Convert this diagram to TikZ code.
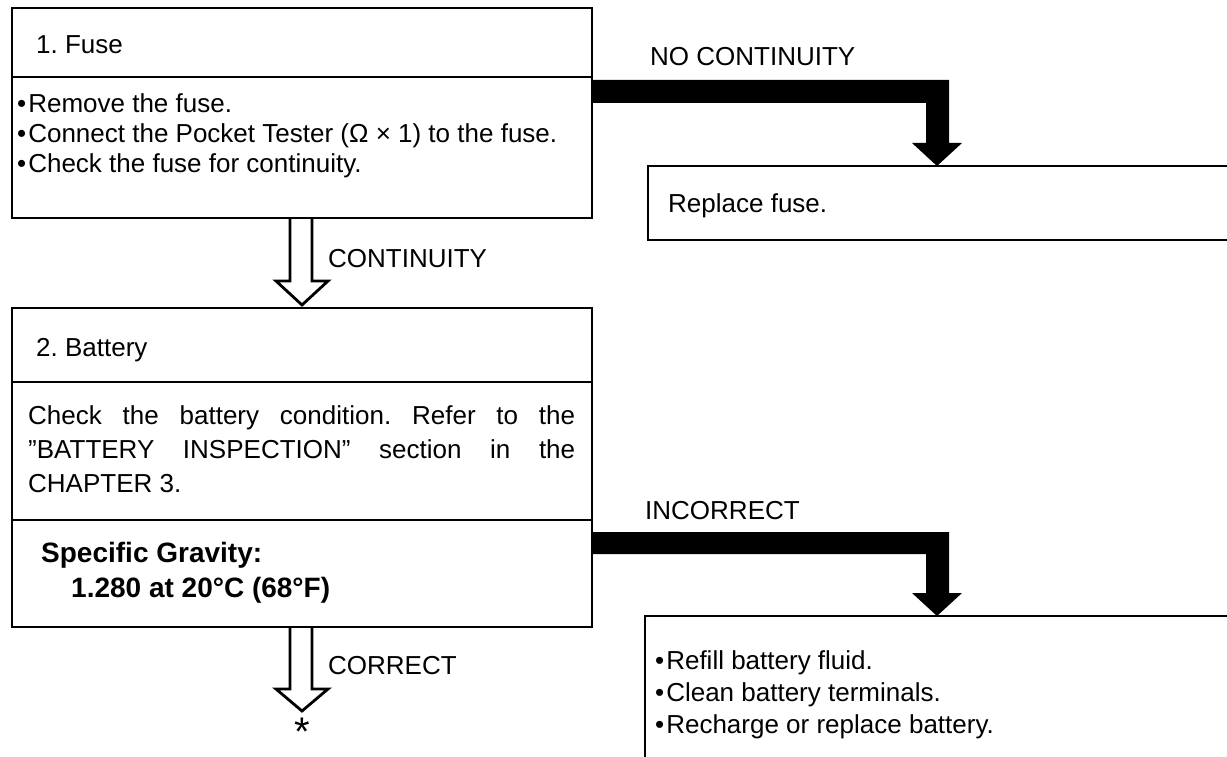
\documentclass[tikz,border=0pt]{standalone}
\usepackage{fontspec}
\setmainfont{Liberation Sans}
\usetikzlibrary{calc}
\frenchspacing
\begin{document}
\begin{tikzpicture}[x=1pt,y=-1pt,
  frame/.style={draw,line width=2.8pt,anchor=north west,inner sep=0pt,outer sep=0pt},
  lbl/.style={anchor=base west,inner sep=0pt,font=\fontsize{26}{30}\selectfont},
  blbl/.style={anchor=base west,inner sep=0pt,font=\fontsize{28}{32}\selectfont\bfseries},
  fatarrow/.style={fill=black,draw=none},
  hollowarrow/.style={draw,line width=2.8pt,line join=miter,miter limit=10}]
\useasboundingbox (0,0) rectangle (1227,757);
\clip (0,0) rectangle (1227,757);
\newcommand{\bul}{•\kern2pt}

% boxes
\node[frame,minimum width=580pt,minimum height=69pt] (f1) at (12,8) {};
\node[frame,minimum width=580pt,minimum height=141pt] (f2) at (12,77) {};
\node[frame,minimum width=620pt,minimum height=74pt] (rf) at (648,166) {};
\node[frame,minimum width=580pt,minimum height=74pt] (b1) at (12,308) {};
\node[frame,minimum width=580pt,minimum height=138pt] (b2) at (12,382) {};
\node[frame,minimum width=580pt,minimum height=107pt] (b3) at (12,520) {};
\node[frame,minimum width=620pt,minimum height=180pt] (rb) at (645,616) {};

% texts
\node[lbl] (t1) at (36,54) {1. Fuse};
\node[lbl] (t1a) at (17,113) {\bul Remove the fuse.};
\node[lbl] (t1b) at (17,143) {\bul Connect the Pocket Tester (Ω × 1) to the fuse.};
\node[lbl] (t1c) at (17,173) {\bul Check the fuse for continuity.};
\node[lbl] (nc) at (650,66) {NO CONTINUITY};
\node[lbl] (rft) at (668,212) {Replace fuse.};
\node[lbl] (ct) at (328,267) {CONTINUITY};
\node[lbl] (t2) at (36,356) {2. Battery};
\node[lbl] (t2a) at (28,424) {\makebox[547pt][s]{Check the battery condition. Refer to the}};
\node[lbl] (t2b) at (28,458) {\makebox[547pt][s]{”BATTERY INSPECTION” section in the}};
\node[lbl] (t2c) at (28,492) {CHAPTER 3.};
\node[blbl] (sg) at (41,562) {Specific Gravity:};
\node[blbl] (sgv) at (71,597) {1.280 at 20°C (68°F)};
\node[lbl] (inc) at (645,519) {INCORRECT};
\node[lbl] (cor) at (328,674) {CORRECT};
\node[lbl] (r1) at (655,669) {\bul Refill battery fluid.};
\node[lbl] (r2) at (655,701) {\bul Clean battery terminals.};
\node[lbl] (r3) at (655,733) {\bul Recharge or replace battery.};
\node[inner sep=0pt,anchor=north,font=\fontsize{40}{40}\selectfont] (star) at (302,718) {*};

% arrow tips
\coordinate (tipA) at ($(rf.north west)+(289,0)$);
\coordinate (tipB) at ($(rb.north west)+(292,0)$);
\coordinate (tipC) at ($(b1.north)+(0,-3)$);
\coordinate (tipD) at ($(star.north)+(0,-7)$);

% fat arrows
\fill[fatarrow] ($(f2.north east)+(-1,3)$) -- ($(tipA)+(12,-86)$) -- ($(tipA)+(12,-23)$)
  -- ($(tipA)+(25,-23)$) -- (tipA) -- ($(tipA)+(-25,-23)$) -- ($(tipA)+(-11,-23)$)
  -- ($(tipA)+(-11,-63)$) -- ($(f2.north east)+(-1,26)$) -- cycle;
\fill[fatarrow] ($(b3.north east)+(-1,12)$) -- ($(tipB)+(12,-84)$) -- ($(tipB)+(12,-23)$)
  -- ($(tipB)+(25,-23)$) -- (tipB) -- ($(tipB)+(-25,-23)$) -- ($(tipB)+(-11,-23)$)
  -- ($(tipB)+(-11,-62)$) -- ($(b3.north east)+(-1,34)$) -- cycle;

% hollow arrows
\draw[hollowarrow] ($(f2.south)+(-12,0)$) -- ($(tipC)+(-12,-24)$) -- ($(tipC)+(-26,-24)$)
  -- (tipC) -- ($(tipC)+(26,-24)$) -- ($(tipC)+(10,-24)$) -- ($(f2.south)+(10,0)$);
\draw[hollowarrow] ($(b3.south)+(-12,0)$) -- ($(tipD)+(-12,-22)$) -- ($(tipD)+(-26,-22)$)
  -- (tipD) -- ($(tipD)+(26,-22)$) -- ($(tipD)+(10,-22)$) -- ($(b3.south)+(10,0)$);
\end{tikzpicture}
\end{document}
